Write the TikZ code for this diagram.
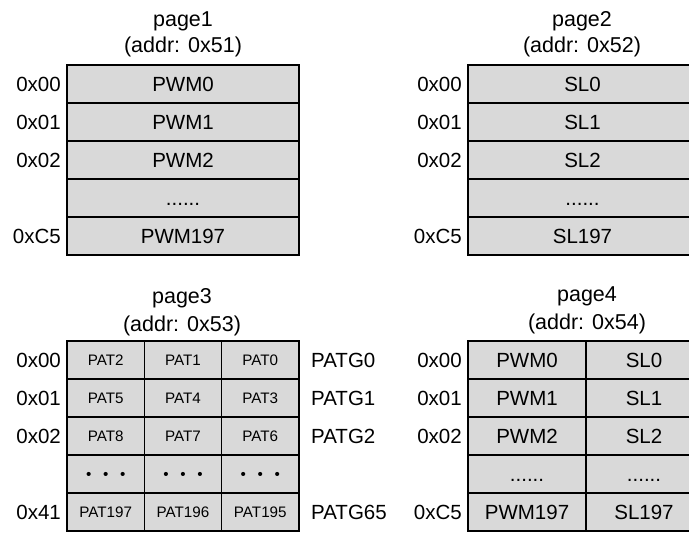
\documentclass[tikz,border=0pt]{standalone}
\usepackage{fontspec}
\setmainfont{Liberation Sans}
\usetikzlibrary{positioning}

\definecolor{cellgray}{RGB}{217,217,217}
\tikzset{
  regcell/.style={draw,fill=cellgray,line width=1.6pt,inner sep=0pt,outer sep=0pt,
                  minimum height=38pt,font=\fontsize{20.5}{24}\selectfont,
                  text height=14.7pt,text depth=0pt},
  patcell/.style={regcell,minimum width=77.33pt,font=\fontsize{15.2}{18}\selectfont,
                  text height=10.9pt},
  addrlabel/.style={inner sep=0pt,font=\fontsize{20.5}{24}\selectfont,
                  text height=14.7pt,text depth=0pt},
  titlelabel/.style={anchor=base,inner sep=0pt,font=\fontsize{21.5}{26}\selectfont},
}

\begin{document}
\begin{tikzpicture}[x=1pt,y=-1pt]
        \useasboundingbox (0,0) rectangle (689,534);

        % page1
        \node (Atitle) at (183,27) [titlelabel] {page1};
        \node (Aaddr)  at (183,53) [titlelabel] {(addr: 0x51)};
        \node (Apwm0)   at (183,84)  [regcell,minimum width=232pt] {PWM0};
        \node (Apwm1)   at (183,122) [regcell,minimum width=232pt] {PWM1};
        \node (Apwm2)   at (183,160) [regcell,minimum width=232pt] {PWM2};
        \node (Adots)   at (183,198) [regcell,minimum width=232pt] {......};
        \node (Apwm197) at (183,236) [regcell,minimum width=232pt] {PWM197};
        \node (Aaddr0) [addrlabel,left=6pt of Apwm0] {0x00};
        \node (Aaddr1) [addrlabel,left=6pt of Apwm1] {0x01};
        \node (Aaddr2) [addrlabel,left=6pt of Apwm2] {0x02};
        \node (AaddrC5) [addrlabel,left=6pt of Apwm197] {0xC5};

        % page2
        \node (Btitle) at (582,27) [titlelabel] {page2};
        \node (Baddr)  at (582,53) [titlelabel] {(addr: 0x52)};
        \node (Bsl0)   at (582.5,84)  [regcell,minimum width=229pt] {SL0};
        \node (Bsl1)   at (582.5,122) [regcell,minimum width=229pt] {SL1};
        \node (Bsl2)   at (582.5,160) [regcell,minimum width=229pt] {SL2};
        \node (Bdots)  at (582.5,198) [regcell,minimum width=229pt] {......};
        \node (Bsl197) at (582.5,236) [regcell,minimum width=229pt] {SL197};
        \node (Baddr0) [addrlabel,left=6pt of Bsl0] {0x00};
        \node (Baddr1) [addrlabel,left=6pt of Bsl1] {0x01};
        \node (Baddr2) [addrlabel,left=6pt of Bsl2] {0x02};
        \node (BaddrC5) [addrlabel,left=6pt of Bsl197] {0xC5};

        % page3
        \node (Ctitle) at (182,304) [titlelabel] {page3};
        \node (Caddr)  at (182,332) [titlelabel] {(addr: 0x53)};
        \node (Cpat2)   at (105.7,360) [patcell] {PAT2};
        \node (Cpat1)   at (183,360)   [patcell] {PAT1};
        \node (Cpat0)   at (260.3,360) [patcell] {PAT0};
        \node (Cpat5)   at (105.7,398) [patcell] {PAT5};
        \node (Cpat4)   at (183,398)   [patcell] {PAT4};
        \node (Cpat3)   at (260.3,398) [patcell] {PAT3};
        \node (Cpat8)   at (105.7,436) [patcell] {PAT8};
        \node (Cpat7)   at (183,436)   [patcell] {PAT7};
        \node (Cpat6)   at (260.3,436) [patcell] {PAT6};
        \node (Cdots1)  at (105.7,474) [patcell] {•\hspace{11.7pt}•\hspace{11.7pt}•};
        \node (Cdots2)  at (183,474)   [patcell] {•\hspace{11.7pt}•\hspace{11.7pt}•};
        \node (Cdots3)  at (260.3,474) [patcell] {•\hspace{11.7pt}•\hspace{11.7pt}•};
        \node (Cpat197) at (105.7,512) [patcell] {PAT197};
        \node (Cpat196) at (183,512)   [patcell] {PAT196};
        \node (Cpat195) at (260.3,512) [patcell] {PAT195};
        \node (Caddr0) [addrlabel,left=6pt of Cpat2] {0x00};
        \node (Caddr1) [addrlabel,left=6pt of Cpat5] {0x01};
        \node (Caddr2) [addrlabel,left=6pt of Cpat8] {0x02};
        \node (Caddr41) [addrlabel,left=6pt of Cpat197] {0x41};
        \node (Cpatg0) [addrlabel,right=12pt of Cpat0] {PATG0};
        \node (Cpatg1) [addrlabel,right=12pt of Cpat3] {PATG1};
        \node (Cpatg2) [addrlabel,right=12pt of Cpat6] {PATG2};
        \node (Cpatg65) [addrlabel,right=12pt of Cpat195] {PATG65};

        % page4
        \node (Dtitle) at (587,302) [titlelabel] {page4};
        \node (Daddr)  at (587,330) [titlelabel] {(addr: 0x54)};
        \node (Dpwm0)   at (527,360) [regcell,minimum width=118pt] {PWM0};
        \node (Dsl0)    at (644,360) [regcell,minimum width=116pt] {SL0};
        \node (Dpwm1)   at (527,398) [regcell,minimum width=118pt] {PWM1};
        \node (Dsl1)    at (644,398) [regcell,minimum width=116pt] {SL1};
        \node (Dpwm2)   at (527,436) [regcell,minimum width=118pt] {PWM2};
        \node (Dsl2)    at (644,436) [regcell,minimum width=116pt] {SL2};
        \node (Ddots1)  at (527,474) [regcell,minimum width=118pt] {......};
        \node (Ddots2)  at (644,474) [regcell,minimum width=116pt] {......};
        \node (Dpwm197) at (527,512) [regcell,minimum width=118pt] {PWM197};
        \node (Dsl197)  at (644,512) [regcell,minimum width=116pt] {SL197};
        \node (Daddr0) [addrlabel,left=6pt of Dpwm0] {0x00};
        \node (Daddr1) [addrlabel,left=6pt of Dpwm1] {0x01};
        \node (Daddr2) [addrlabel,left=6pt of Dpwm2] {0x02};
        \node (DaddrC5) [addrlabel,left=6pt of Dpwm197] {0xC5};
\end{tikzpicture}
\end{document}
